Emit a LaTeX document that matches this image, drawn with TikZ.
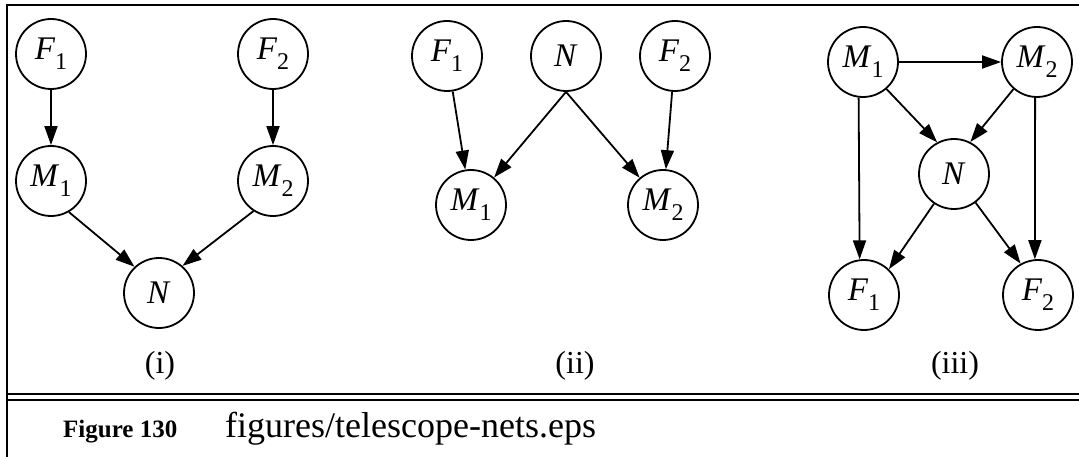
\documentclass[tikz,border=0pt]{standalone}
\usepackage{fontspec}
\setmainfont{Liberation Serif}
\usetikzlibrary{arrows.meta}

\newcommand{\varname}[2]{\textit{#1}\raisebox{-0.3em}{\fontsize{24}{27}\selectfont #2}}

\tikzset{
  var/.style={circle, draw, line width=1.8pt, minimum size=70pt, inner sep=0pt,
    font=\fontsize{33}{37}\selectfont},
  dep/.style={line width=1.8pt, -{Triangle[length=19pt,width=13pt]}},
  rule/.style={line width=2.6pt},
  tag/.style={anchor=base, font=\fontsize{32}{36}\selectfont},
}

\begin{document}
\begin{tikzpicture}[x=1pt, y=-1pt]
    \useasboundingbox (0,0) rectangle (1079,457);

    % frame
    \draw[rule] (7,457) -- (7,5) -- (1079,5);
    \draw[rule] (7,394) -- (1079,394);
    \draw[rule] (7,400) -- (1079,400);

    % (i)
    \node[var] (f1a) at (51,54) {\varname{F}{1}};
    \node[var] (f2a) at (273,54) {\varname{F}{2}};
    \node[var] (m1a) at (51,181) {\varname{M}{1}};
    \node[var] (m2a) at (273,181) {\varname{M}{2}};
    \node[var] (na) at (159,293) {\textit{N}};
    \draw[dep] (f1a) -- (m1a);
    \draw[dep] (f2a) -- (m2a);
    \draw[dep] (m1a.-60) -- (na.133);
    \draw[dep] (m2a.-123) -- (na.49);
    \node[tag] (ia) at (160,373) {(i)};

    % (ii)
    \node[var] (f1b) at (447,56) {\varname{F}{1}};
    \node[var] (nb) at (566,56) {\textit{N}};
    \node[var] (f2b) at (675,56) {\varname{F}{2}};
    \node[var] (m1b) at (471,205) {\varname{M}{1}};
    \node[var] (m2b) at (663,205) {\varname{M}{2}};
    \draw[dep] (f1b) -- (m1b);
    \draw[dep] (f2b) -- (m2b);
    \draw[dep] (nb.south) -- (m1b);
    \draw[dep] (nb.south) -- (m2b);
    \node[tag] (iib) at (575,373) {(ii)};

    % (iii)
    \node[var] (m1c) at (863,62) {\varname{M}{1}};
    \node[var] (m2c) at (1037,62) {\varname{M}{2}};
    \node[var] (nc) at (954,174) {\textit{N}};
    \node[var] (f1c) at (864,295) {\varname{F}{1}};
    \node[var] (f2c) at (1038,295) {\varname{F}{2}};
    \draw[dep] (m1c) -- (m2c);
    \draw[dep] (m1c.-49) -- (nc.118);
    \draw[dep] (m2c.-131) -- (nc.63);
    \draw[dep] (m1c.263) -- (f1c.97);
    \draw[dep] (m2c.267) -- (f2c.95);
    \draw[dep] (nc.-124) -- (f1c.46);
    \draw[dep] (nc.-53) -- (f2c.119);
    \node[tag] (iiic) at (955,373) {(iii)};

    % caption
    \node[anchor=base west, inner sep=0pt, font=\fontsize{25}{29}\selectfont\bfseries] (fig) at (63,437) {Figure 130};
    \node[anchor=base west, inner sep=0pt, font=\fontsize{36}{40}\selectfont] (file) at (225,437) {figures/telescope-nets.eps};
\end{tikzpicture}
\end{document}
